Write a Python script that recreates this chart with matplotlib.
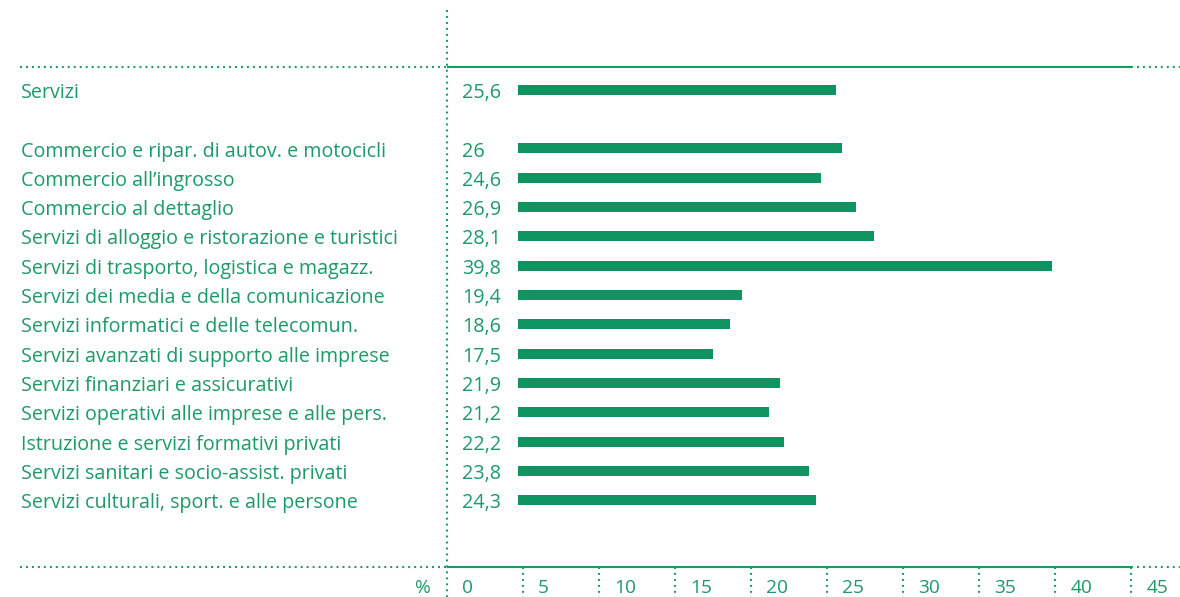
import matplotlib.pyplot as plt

plt.rcParams['font.family'] = ['Open Sans', 'DejaVu Sans']
plt.rcParams['lines.scale_dashes'] = False

categories = ["Servizi",
              "Commercio e ripar. di autov. e motocicli",
              "Commercio all\u2019ingrosso",
              "Commercio al dettaglio",
              "Servizi di alloggio e ristorazione e turistici",
              "Servizi di trasporto, logistica e magazz.",
              "Servizi dei media e della comunicazione",
              "Servizi informatici e delle telecomun.",
              "Servizi avanzati di supporto alle imprese",
              "Servizi finanziari e assicurativi",
              "Servizi operativi alle imprese e alle pers.",
              "Istruzione e servizi formativi privati",
              "Servizi sanitari e socio-assist. privati",
              "Servizi culturali, sport. e alle persone"]
values = [25.6, 26, 24.6, 26.9, 28.1, 39.8, 19.4, 18.6, 17.5, 21.9, 21.2, 22.2, 23.8, 24.3]
value_labels = ["25,6", "26", "24,6", "26,9", "28,1", "39,8", "19,4", "18,6",
                "17,5", "21,9", "21,2", "22,2", "23,8", "24,3"]
ticks = [0, 5, 10, 15, 20, 25, 30, 35, 40, 45]

text_green = "#1c9a68"
bar_green = "#0f9360"
line_green = "#1a9a64"
dotted = (0, (1.4, 2.9))
fs = 14.2

# Servizi on its own, then a blank row
positions = [0] + list(range(2, 2 + len(categories) - 1))

fig = plt.figure(figsize=(11.8, 5.97), dpi=100)
ax = fig.add_axes([447/1180, 30/597, 684/1180, 500/597])
ax.set_xlim(0, 45)
top, bottom = -0.75, 16.31
ax.set_ylim(bottom, top)
ax.axis('off')

bar_start = 4.7  # bars start right of the value column
ax.barh([p + 0.03 for p in positions], [v - bar_start for v in values],
        left=bar_start, height=0.34, color=bar_green)

left_x = -28.0
for p, c, l in zip(positions, categories, value_labels):
    ax.text(left_x, p + 0.05, c, ha='left', va='center_baseline', color=text_green,
            fontsize=fs, clip_on=False)
    ax.text(1.0, p + 0.05, l, ha='left', va='center_baseline', color=text_green,
            fontsize=fs, clip_on=False)

# frame lines
for yy in [top, bottom]:
    ax.plot([0, 45], [yy, yy], color=line_green, lw=1.5,
            solid_capstyle='butt', clip_on=False)
    ax.plot([-28.1, 0], [yy, yy], color=line_green, lw=1.5,
            linestyle=dotted, clip_on=False)
    ax.plot([45, 48.3], [yy, yy], color=line_green, lw=1.5,
            linestyle=dotted, clip_on=False)
ax.plot([0, 0], [-2.7, 17.4], color=line_green, lw=1.5,
        linestyle=dotted, clip_on=False)

# x axis ticks
for t in ticks:
    if t > 0:
        ax.plot([t, t], [bottom, 17.4], color=line_green, lw=1.5,
                linestyle=dotted, clip_on=False)
    ax.text(t + 1.0, bottom + 0.64, str(t), ha='left', va='center_baseline',
            color=text_green, fontsize=13.8, clip_on=False)
ax.text(-1.05, bottom + 0.64, "%", ha='right', va='center_baseline',
        color=text_green, fontsize=13.8, clip_on=False)

fig.savefig("out.png", dpi=100)
